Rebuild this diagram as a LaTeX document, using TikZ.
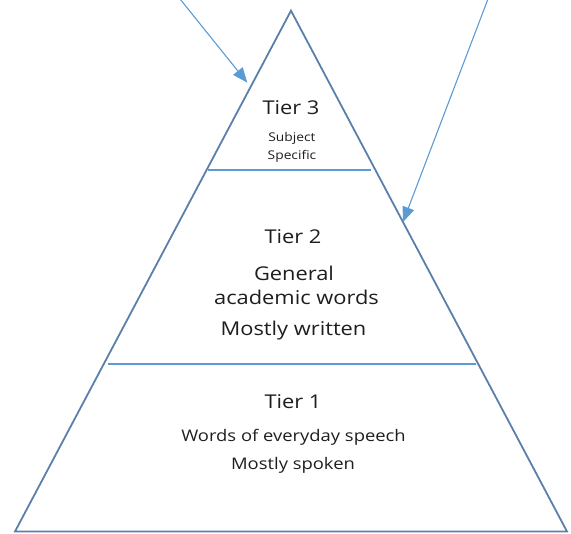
\documentclass[tikz,border=0pt]{standalone}
\usepackage{fontspec}
\setmainfont[FakeStretch=1.15]{Open Sans}
\usetikzlibrary{arrows.meta}
\definecolor{triline}{HTML}{5A80AA}
\definecolor{sepline}{HTML}{5B9BD5}
\definecolor{txt}{HTML}{1E1E1E}
\tikzset{
  tri/.style={draw=triline, line width=1.8pt, line join=miter},
  sep/.style={draw=sepline, line width=1.3pt},
  pointer/.style={draw=sepline, line width=1.1pt, -{Triangle[length=15pt,width=12pt]}},
  lbl/.style={anchor=base, text=txt, inner sep=0pt, font=\fontsize{19}{21}\selectfont},
  mid/.style={anchor=base, text=txt, inner sep=0pt, font=\fontsize{16}{18}\selectfont},
  small/.style={anchor=base, text=txt, inner sep=0pt, font=\fontsize{12}{14}\selectfont},
}
\begin{document}
\begin{tikzpicture}[x=1pt,y=-1pt]
\useasboundingbox (0,0) rectangle (571,534);
\coordinate (apex) at (291,10.7);
\coordinate (bl) at (15,531.5);
\coordinate (br) at (567,531.5);
\draw[tri] (apex) -- (br) -- (bl) -- cycle;
\coordinate (s3l) at (208,170);
\coordinate (s3r) at (371,170);
\coordinate (s2l) at (108,364);
\coordinate (s2r) at (476,364);
\draw[sep] (s3l) -- (s3r);
\draw[sep] (s2l) -- (s2r);
\coordinate (a1s) at (180,-1);
\coordinate (a1t) at (247.3,82.7);
\coordinate (a2s) at (488,-1);
\coordinate (a2t) at (403,222);
\draw[pointer] (a1s) -- (a1t);
\draw[pointer] (a2s) -- (a2t);
\node[lbl] (t3) at (291,115) {Tier 3};
\node[small] (t3a) at (292,142) {Subject};
\node[small] (t3b) at (292,159.5) {Specific};
\node[lbl] (t2) at (293,244) {Tier 2};
\node[lbl] (t2a) at (294,280.5) {General};
\node[lbl] (t2b) at (296.5,305) {academic words};
\node[lbl] (t2c) at (293.5,336) {Mostly written};
\node[lbl] (t1) at (293,408.5) {Tier 1};
\node[mid] (t1a) at (293.5,442) {Words of everyday speech};
\node[mid] (t1b) at (293,470) {Mostly spoken};
\end{tikzpicture}
\end{document}
